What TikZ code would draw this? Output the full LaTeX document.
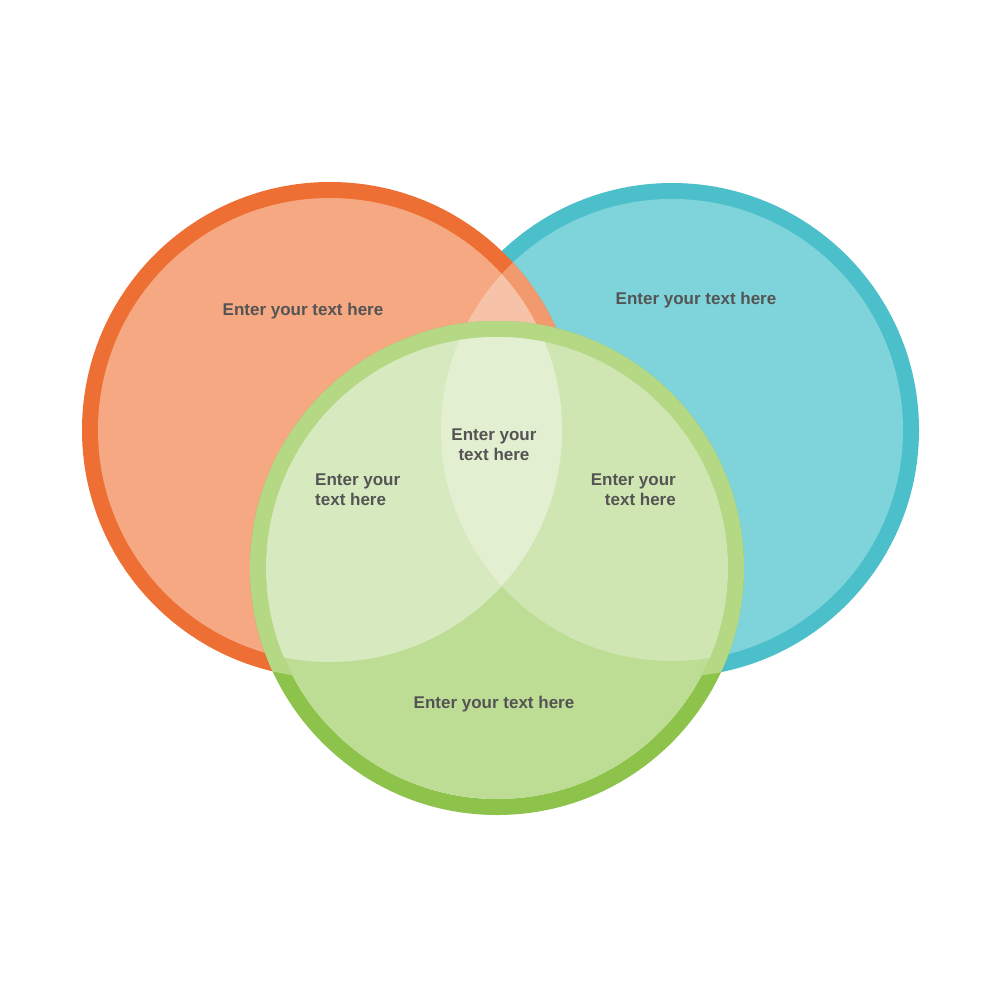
\documentclass[tikz,border=0pt]{standalone}
\usepackage{fontspec}
\setmainfont{Liberation Sans}
\begin{document}
\begin{tikzpicture}[x=1pt,y=-1pt,
  lbl/.style={font=\fontsize{17}{20}\selectfont\bfseries, text=black!67, inner sep=0pt}]
\useasboundingbox (0,0) rectangle (1000,1000);
\fill[white] (0,0) rectangle (1000,1000);
\coordinate (O) at (330,430);
\coordinate (B) at (672,430);
\coordinate (G) at (497,568);
% blue
\fill[color={rgb,255:red,75;green,192;blue,202}] (B) circle (247);
\fill[color={rgb,255:red,127;green,212;blue,219}] (B) circle (231);
% orange
\fill[color={rgb,255:red,238;green,111;blue,51}] (O) circle (248);
\fill[color={rgb,255:red,245;green,168;blue,130}] (O) circle (232);
\begin{scope}
  \clip (B) circle (231);
  \fill[color={rgb,255:red,242;green,154;blue,110}] (O) circle (248);
  \fill[color={rgb,255:red,246;green,195;blue,168}] (O) circle (232);
\end{scope}
% green ring
\fill[even odd rule,color={rgb,255:red,141;green,195;blue,74}] (G) circle (247) (G) circle (231);
\begin{scope}
  \clip (O) circle (248);
  \fill[even odd rule,color={rgb,255:red,181;green,216;blue,133}] (G) circle (247) (G) circle (231);
\end{scope}
\begin{scope}
  \clip (B) circle (247);
  \fill[even odd rule,color={rgb,255:red,181;green,216;blue,133}] (G) circle (247) (G) circle (231);
\end{scope}
% green fill
\fill[color={rgb,255:red,190;green,221;blue,148}] (G) circle (231);
\begin{scope}
  \clip (G) circle (231);
  \fill[color={rgb,255:red,208;green,230;blue,178}] (B) circle (231);
  \fill[color={rgb,255:red,215;green,233;blue,190}] (O) circle (232);
  \clip (O) circle (232);
  \fill[color={rgb,255:red,226;green,239;blue,208}] (B) circle (231);
\end{scope}
% labels
\node[lbl] (t1) at (303,311) {Enter your text here};
\node[lbl] (t2) at (696,300) {Enter your text here};
\node[lbl] (t3) at (494,704) {Enter your text here};
\node[lbl,align=center] (t4) at (494,445) {Enter your\\text here};
\node[lbl,align=left,anchor=west] (t5) at (315,490) {Enter your\\text here};
\node[lbl,align=right,anchor=east] (t6) at (676,490) {Enter your\\text here};
\end{tikzpicture}
\end{document}
